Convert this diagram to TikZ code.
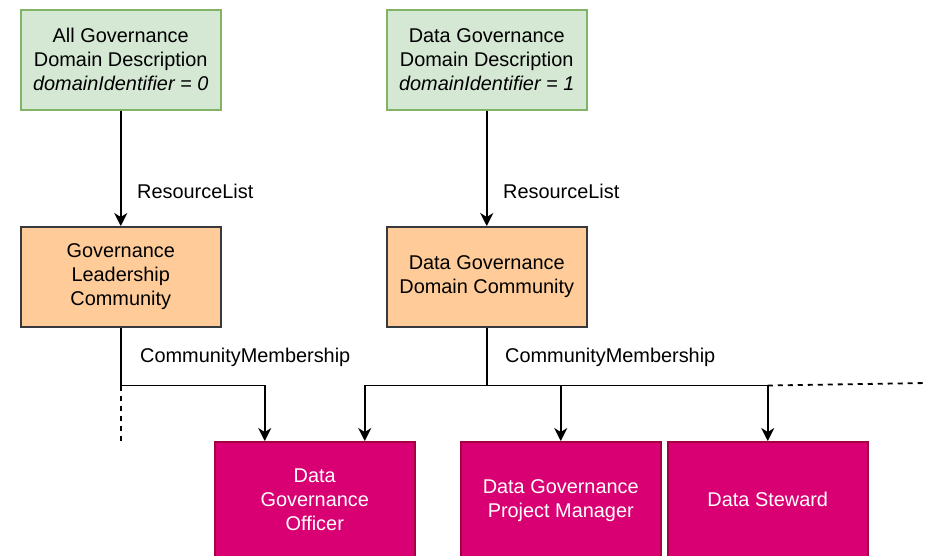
\documentclass[tikz,border=0pt]{standalone}
\usepackage{fontspec}
\setmainfont{Liberation Sans}
\usetikzlibrary{arrows.meta,calc}
\definecolor{gfill}{HTML}{D5E8D4}
\definecolor{gline}{HTML}{82B366}
\definecolor{ofill}{HTML}{FFCC99}
\definecolor{oline}{HTML}{36393D}
\definecolor{mfill}{HTML}{D80073}
\definecolor{mline}{HTML}{A50040}
\tikzset{
  box/.style={rectangle, anchor=north west, minimum width=200pt, minimum height=100pt,
    inner sep=0pt, align=center, line width=1.5pt,
    font=\fontsize{19.9}{24}\selectfont},
  greenbox/.style={box, fill=gfill, draw=gline},
  orangebox/.style={box, fill=ofill, draw=oline},
  rolebox/.style={box, minimum height=116pt, fill=mfill, draw=mline, text=white},
  conn/.style={line width=1.8pt, black},
  arr/.style={conn, -{Stealth[length=13pt,width=13pt,inset=4pt]}},
  dashline/.style={conn, dash pattern=on 5pt off 5pt},
  lbl/.style={anchor=west, inner sep=0pt, font=\fontsize{19.9}{24}\selectfont}
}
\begin{document}
\begin{tikzpicture}[x=1pt,y=-1pt]
\useasboundingbox (0,0) rectangle (927,555);
\clip (0,0) rectangle (927,555);
\node[greenbox] (g1) at (20,9) {All Governance\\Domain Description\\\textit{domainIdentifier = 0}};
\node[greenbox] (g2) at (386,9) {Data Governance\\Domain Description\\\textit{domainIdentifier = 1}};
\node[orangebox] (o1) at (20,226) {Governance\\Leadership\\Community};
\node[orangebox] (o2) at (386,226) {Data Governance\\Domain Community};
\node[rolebox] (m1) at (214,441) {Data\\Governance\\Officer};
\node[rolebox, minimum height=118pt] (m2) at (460,441) {Data Governance\\Project Manager};
\node[rolebox] (m3) at (667,441) {Data Steward};

\draw[arr] (g1.south) -- (o1.north);
\draw[arr] (g2.south) -- (o2.north);
\node[lbl] (r1) at (137,191) {ResourceList};
\node[lbl] (r2) at (503,191) {ResourceList};

\draw[conn] (o1.south) -- ++(0,58) coordinate (j1);
\draw[arr] (j1) -| ([xshift=-50pt]m1.north);
\draw[dashline] (j1) -- ++(0,57) coordinate (d1);
\node[lbl] (c1) at (140,357) {CommunityMembership};

\draw[conn] (o2.south) -- ++(0,58) coordinate (j2);
\draw[arr] (j2) -| ([xshift=50pt]m1.north);
\draw[arr] (j2) -| (m2.north);
\draw[arr] (j2) -| (m3.north);
\coordinate (d2) at (927,383);
\draw[dashline] (j2 -| m3.north) -- (d2);
\node[lbl] (c2) at (505,357) {CommunityMembership};
\end{tikzpicture}
\end{document}
